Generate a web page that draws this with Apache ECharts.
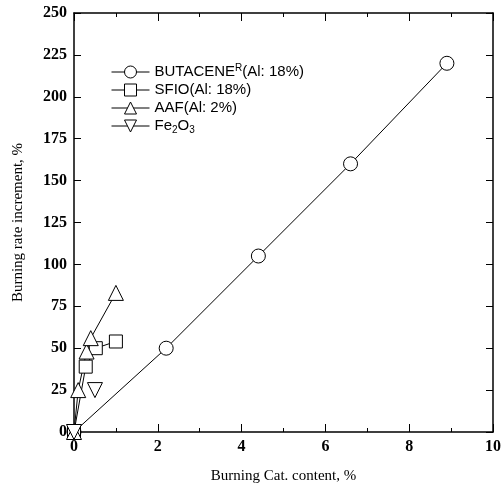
<!DOCTYPE html>
<html><head><meta charset="utf-8">
<script src="https://cdn.jsdelivr.net/npm/echarts@6/dist/echarts.min.js"></script>
<style>html,body{margin:0;padding:0;background:#fff}#c{width:504px;height:496px}</style>
</head><body><div id="c"></div>
<script>
var xTicks = [0, 2, 4, 6, 8, 10];
var yTicks = [0, 25, 50, 75, 100, 125, 150, 175, 200, 225, 250];
var seriesNames = ['BUTACENE', 'SFIO', 'AAF', 'Fe2O3'];
var butX = [0, 2.2, 4.4, 6.6, 8.9];
var butY = [0, 50, 105, 160, 220];
var sfioX = [0, 0.28, 0.52, 1.0];
var sfioY = [0, 39, 50, 54];
var aafX = [0, 0.1, 0.3, 0.4, 1.0];
var aafY = [0, 25, 48, 56, 83];
var feX = [0, 0.5];
var feY = [0, 25];

function pairs(xs, ys) { return xs.map(function (x, i) { return [x, ys[i]]; }); }

var chart = echarts.init(document.getElementById('c'));
var serif = 'Liberation Serif';
var sans = 'Liberation Sans';
var mk = { color: '#fff', borderColor: '#000', borderWidth: 1 };
var ln = { color: '#000', width: 1 };

function axisX(main) {
  return {
    type: 'value', min: 0, max: 10, interval: 2,
    position: main ? 'bottom' : 'top',
    name: main ? 'Burning Cat. content, %' : '',
    nameLocation: 'middle', nameGap: 37,
    nameTextStyle: { fontFamily: serif, fontSize: 15, color: '#000' },
    axisLine: { show: true, onZero: false, lineStyle: { color: '#000', width: 1.5 } },
    axisTick: { show: true, inside: true, length: 8, lineStyle: { color: '#000', width: 1 } },
    minorTick: { show: true, splitNumber: 2, length: 4, lineStyle: { color: '#000', width: 1 } },
    axisLabel: { show: main, fontFamily: serif, fontWeight: 'bold', fontSize: 16, color: '#000', margin: 7 },
    splitLine: { show: false }
  };
}
function axisY(main) {
  return {
    type: 'value', min: 0, max: 250, interval: 25,
    position: main ? 'left' : 'right',
    name: main ? 'Burning rate increment, %' : '',
    nameLocation: 'middle', nameGap: 48, nameRotate: 90,
    nameTextStyle: { fontFamily: serif, fontSize: 15, color: '#000' },
    axisLine: { show: true, onZero: false, lineStyle: { color: '#000', width: 1.5 } },
    axisTick: { show: true, inside: true, length: 7, lineStyle: { color: '#000', width: 1 } },
    axisLabel: { show: main, fontFamily: serif, fontWeight: 'bold', fontSize: 16, color: '#000', margin: 7 },
    splitLine: { show: false }
  };
}

var rich = {
  a: { fontFamily: sans, fontSize: 15, color: '#000', lineHeight: 18, verticalAlign: 'middle' },
  sup: { fontFamily: sans, fontSize: 10, color: '#000', lineHeight: 18, verticalAlign: 'top' },
  sub: { fontFamily: sans, fontSize: 10, color: '#000', lineHeight: 18, verticalAlign: 'bottom' }
};
var labels = {
  'BUTACENE': '{a|BUTACENE}{sup|R}{a|(Al: 18%)}',
  'SFIO': '{a|SFIO(Al: 18%)}',
  'AAF': '{a|AAF(Al: 2%)}',
  'Fe2O3': '{a|Fe}{sub|2}{a|O}{sub|3}'
};

function s(name, data, symbol, size, rot, showLine) {
  return {
    name: name, type: 'line', data: data, symbol: symbol, symbolSize: size,
    symbolRotate: rot || 0, clip: false, color: '#000',
    itemStyle: mk,
    lineStyle: showLine ? ln : { color: '#000', width: 0, opacity: 0 },
    emphasis: { disabled: true }, animation: false
  };
}

chart.setOption({
  animation: false,
  backgroundColor: '#fff',
  grid: { left: 74, right: 9, top: 13, bottom: 64 },
  xAxis: [axisX(true), axisX(false)],
  yAxis: [axisY(true), axisY(false)],
  legend: {
    orient: 'vertical', left: 106, top: 58,
    itemWidth: 38, itemHeight: 15, itemGap: 3,
    formatter: function (n) { return labels[n]; },
    textStyle: { rich: rich, padding: [0, 0, 0, 0] },
    lineStyle: { width: 1, color: '#000' },
    itemStyle: { color: '#fff', borderColor: '#000', borderWidth: 1 },
    data: [
      { name: 'BUTACENE' }, { name: 'SFIO' }, { name: 'AAF' },
      { name: 'Fe2O3', lineStyle: { color: '#000', width: 1, opacity: 1 } }
    ],
    selectedMode: false
  },
  series: [
    s(seriesNames[0], pairs(butX, butY), 'circle', 14, 0, true),
    s(seriesNames[1], pairs(sfioX, sfioY), 'rect', 13, 0, true),
    s(seriesNames[2], pairs(aafX, aafY), 'triangle', 15, 0, true),
    s(seriesNames[3], pairs(feX, feY), 'triangle', 15, 180, false)
  ]
});
</script></body></html>
